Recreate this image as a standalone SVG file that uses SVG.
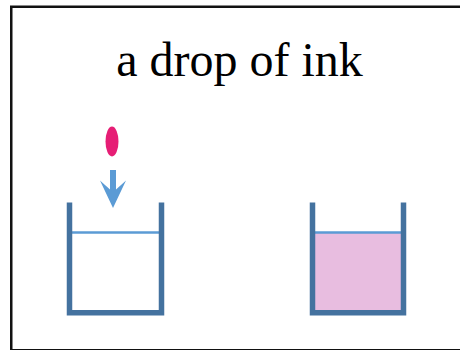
<svg xmlns="http://www.w3.org/2000/svg" width="460" height="350" viewBox="0 0 460 350">
  <style>
    .frame { fill: #ffffff; stroke: #111111; stroke-width: 2.5; }
    .title { font-family: "Liberation Serif", "Times New Roman", serif; font-size: 48px; fill: #000000; }
    .wall { fill: none; stroke: #44729f; stroke-width: 5.5; stroke-linejoin: miter; stroke-linecap: butt; }
    .water { stroke: #5b9bd5; stroke-width: 2.5; }
    .ink { fill: #e8bde0; }
    .drop { fill: #e61e75; }
    .arrow { fill: #5b9bd5; }
  </style>
  <rect class="frame" x="11.25" y="6.75" width="460" height="343.5"/>
  <text class="title" x="239.5" y="76" text-anchor="middle">a drop of ink</text>
  <g id="drop">
    <ellipse class="drop" cx="112" cy="141.5" rx="6.5" ry="15"/>
  </g>
  <g id="connectors">
    <polygon class="arrow" points="110,170 116,170 116,189.5 126,180.5 113,208 100,180.5 110,189.5"/>
  </g>
  <g id="beaker-before">
    <line class="water" x1="70" y1="232.5" x2="161" y2="232.5"/>
    <path class="wall" d="M69.5,202.5 V312.75 H161.5 V202.5"/>
  </g>
  <g id="beaker-after">
    <rect class="ink" x="314" y="232.5" width="89" height="78"/>
    <line class="water" x1="314" y1="232.5" x2="403" y2="232.5"/>
    <path class="wall" d="M312.5,202.5 V312.75 H403.5 V202.5"/>
  </g>
</svg>
